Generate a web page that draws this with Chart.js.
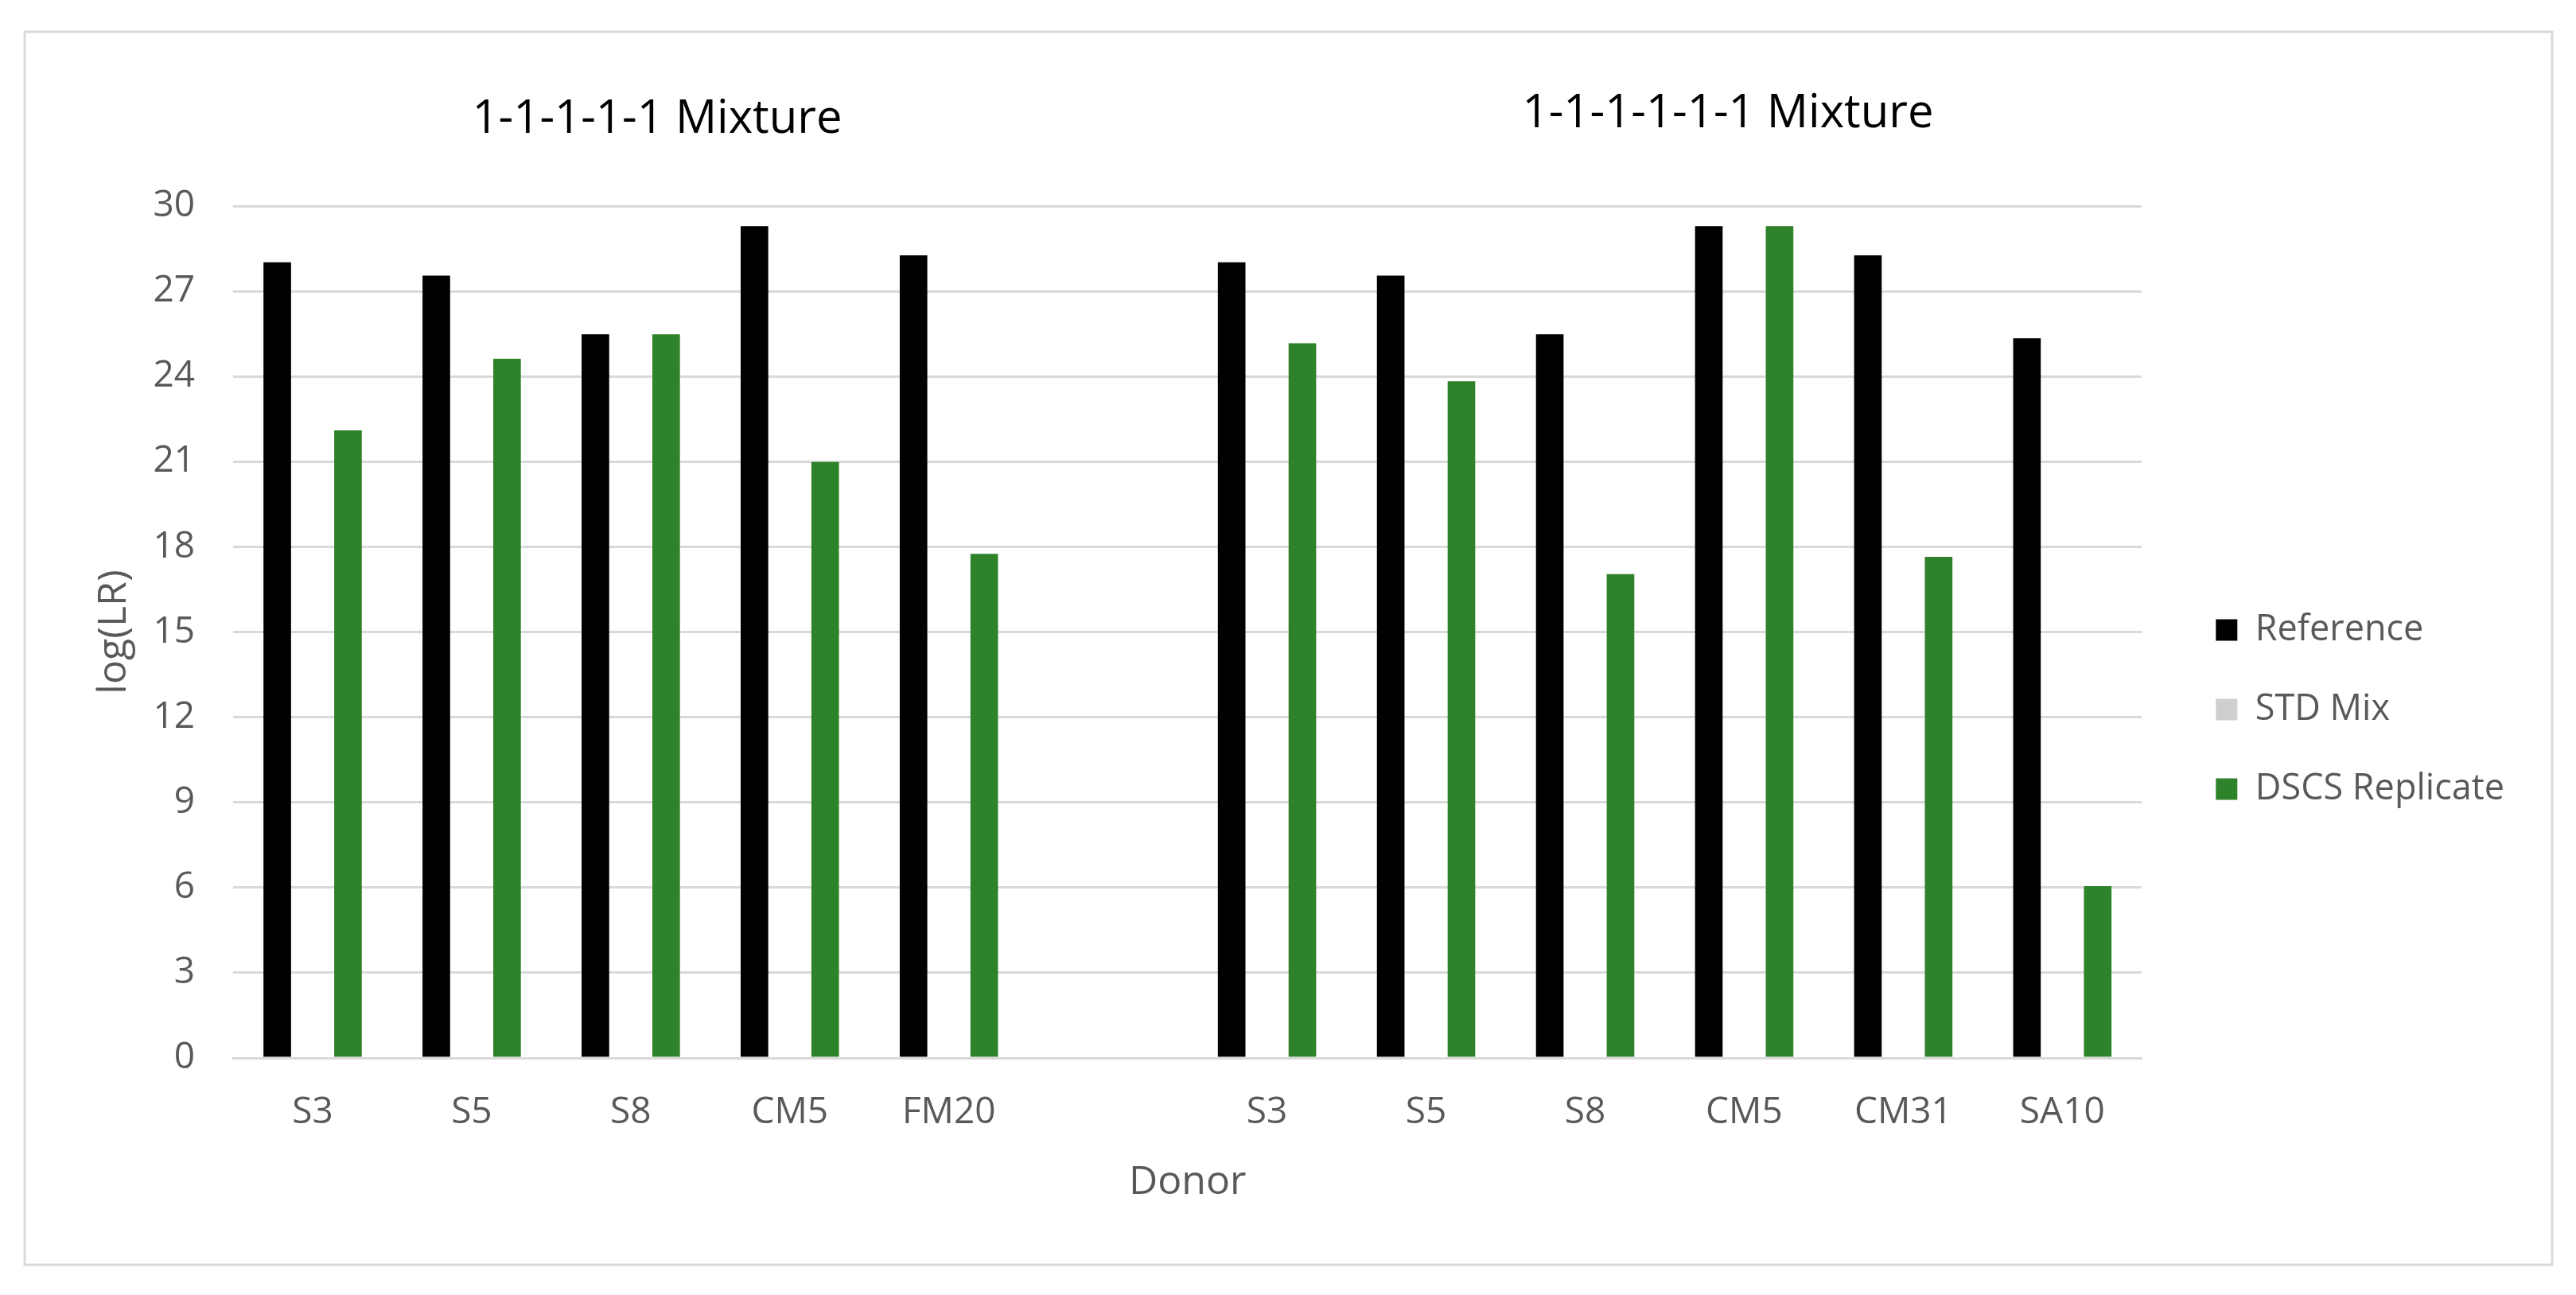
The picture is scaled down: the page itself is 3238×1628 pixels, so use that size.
<!DOCTYPE html>
<html>
<head>
<meta charset="utf-8">
<script src="https://cdn.jsdelivr.net/npm/chart.js@4/dist/chart.umd.min.js"></script>
<style>
  body { margin: 0; background: #fff; }
  canvas { display: block; }
</style>
</head>
<body>
<canvas id="chart" width="3238" height="1628"></canvas>
<script>
// donors, with one empty slot between the two mixtures
const donors = ['S3', 'S5', 'S8', 'CM5', 'FM20', '', 'S3', 'S5', 'S8', 'CM5', 'CM31', 'SA10'];
const reference = [28.02, 27.55, 25.48, 29.29, 28.26, null, 28.02, 27.55, 25.48, 29.29, 28.26, 25.34];
const stdMix = [null, null, null, null, null, null, null, null, null, null, null, null];
const dscsReplicate = [22.1, 24.62, 25.48, 20.99, 17.75, null, 25.17, 23.83, 17.04, 29.29, 17.65, 6.05];
const groupTitles = ['1-1-1-1-1 Mixture', '1-1-1-1-1-1 Mixture'];
const yTicks = [0, 3, 6, 9, 12, 15, 18, 21, 24, 27, 30];

const FONT = "'Open Sans', sans-serif";
const TEXT = '#595959';
const GRID = '#d9d9d9';

// outer frame + the two group titles
const decor = {
  id: 'decor',
  beforeDraw(chart) {
    const ctx = chart.ctx;
    ctx.save();
    ctx.fillStyle = '#fff';
    ctx.fillRect(0, 0, chart.width, chart.height);
    ctx.strokeStyle = GRID;
    ctx.lineWidth = 3;
    ctx.strokeRect(31, 40, 3177, 1550);
    ctx.restore();
  },
  afterDraw(chart) {
    const ctx = chart.ctx;
    ctx.save();
    ctx.fillStyle = '#000';
    ctx.font = "58px " + FONT;
    ctx.textAlign = 'center';
    ctx.textBaseline = 'alphabetic';
    ctx.fillText(groupTitles[0], 826, 167);
    ctx.fillText(groupTitles[1], 2172, 160);
    ctx.restore();
  }
};

new Chart(document.getElementById('chart').getContext('2d'), {
  type: 'bar',
  data: {
    labels: donors,
    datasets: [
      { label: 'Reference', data: reference, backgroundColor: '#000000', borderWidth: 0 },
      { label: 'STD Mix', data: stdMix, backgroundColor: '#d0cece', borderWidth: 0 },
      { label: 'DSCS Replicate', data: dscsReplicate, backgroundColor: '#2e8229', borderWidth: 0 }
    ]
  },
  options: {
    responsive: false,
    animation: false,
    categoryPercentage: 0.667,
    barPercentage: 0.78,
    layout: { padding: { top: 259, bottom: 103, left: 60, right: 80 } },
    plugins: {
      title: { display: false },
      tooltip: { enabled: false },
      legend: {
        position: 'right',
        labels: {
          boxWidth: 27,
          boxHeight: 27,
          padding: 55,
          color: TEXT,
          font: { family: FONT, size: 45 }
        }
      }
    },
    scales: {
      x: {
        grid: { display: false, drawTicks: false },
        border: { display: true, color: GRID, width: 3 },
        ticks: { color: TEXT, padding: 41, font: { family: FONT, size: 46 }, maxRotation: 0, autoSkip: false },
        title: { display: true, text: 'Donor', color: TEXT, font: { family: FONT, size: 50 }, padding: { top: 29, bottom: 8 } },
        afterFit(scale) { scale.height = 195; }
      },
      y: {
        min: 0,
        max: 30,
        afterBuildTicks(scale) { scale.ticks = yTicks.map(v => ({ value: v })); },
        grid: { color: GRID, lineWidth: 3, drawTicks: false },
        border: { display: false },
        ticks: { color: TEXT, padding: 48, font: { family: FONT, size: 46 } },
        title: { display: true, text: 'log(LR)', color: TEXT, font: { family: FONT, size: 50 }, padding: { top: 54, bottom: 0 } },
        afterFit(scale) { scale.width = 233; }
      },
      // empty axis on the right, only to leave the gap before the legend
      gap: {
        position: 'right',
        display: true,
        grid: { display: false, drawTicks: false },
        border: { display: false },
        ticks: { display: false },
        afterFit(scale) { scale.width = 38; }
      }
    }
  },
  plugins: [decor]
});
</script>
</body>
</html>
